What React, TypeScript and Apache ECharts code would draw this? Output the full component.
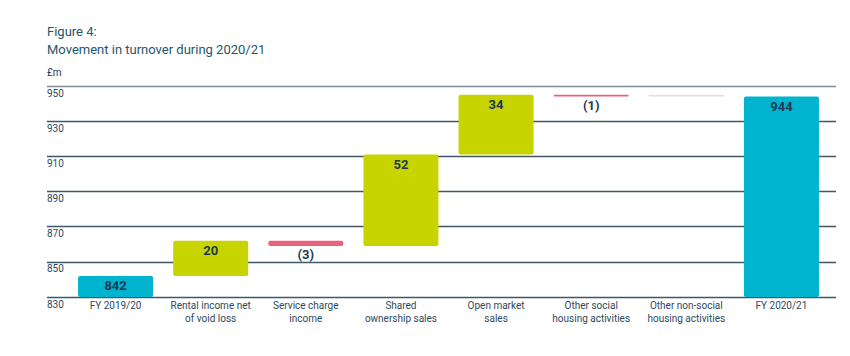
import React, { useEffect, useRef } from "react";
import * as echarts from "echarts";

const categories = [
  "FY 2019/20",
  "Rental income net\nof void loss",
  "Service charge\nincome",
  "Shared\nownership sales",
  "Open market\nsales",
  "Other social\nhousing activities",
  "Other non-social\nhousing activities",
  "FY 2020/21",
];
// movements in £m; first and last are totals
const changes = [842, 20, -3, 52, 34, -1, 0, 944];
const kinds = ["total", "up", "down", "up", "up", "down", "flat", "total"];
const yTicks = { min: 830, max: 950, interval: 20 };

const COLORS: Record<string, string> = {
  total: "#00b3cf",
  up: "#c8d400",
  down: "#e9627c",
  flat: "#dedede",
};
const FONT = "Roboto";
const NAVY = "#1c3a52";

export default function App() {
  const ref = useRef<HTMLDivElement>(null);
  useEffect(() => {
    if (!ref.current) return;
    const chart = echarts.init(ref.current, null, { renderer: "svg" });

    const base: number[] = [];
    const delta: any[] = [];
    let running = 0;
    changes.forEach((v, i) => {
      const k = kinds[i];
      let b: number, h: number;
      if (k === "total") {
        b = 0;
        h = v;
        running = v;
      } else if (v >= 0) {
        b = running;
        h = v;
        running += v;
      } else {
        running += v;
        b = running;
        h = -v;
      }
      base.push(b);
      let text = "";
      if (k === "total" || k === "up") text = String(v);
      else if (k === "down") text = `(${-v})`;
      delta.push({
        value: h,
        itemStyle: { color: COLORS[k], borderRadius: k === "flat" ? 0 : 2 },
        label: {
          show: text !== "",
          formatter: text,
          position: k === "down" ? "bottom" : "insideTop",
          distance: k === "down" ? 2 : 3,
        },
      });
    });

    chart.setOption({
      animation: false,
      graphic: [
        {
          type: "text",
          left: 47,
          top: 25,
          style: { text: "Figure 4:", font: `13px ${FONT}`, fill: "#24566a" },
        },
        {
          type: "text",
          left: 47,
          top: 43,
          style: {
            text: "Movement in turnover during 2020/21",
            font: `13px ${FONT}`,
            fill: "#24566a",
          },
        },
        {
          type: "text",
          left: 47,
          top: 67,
          style: { text: "£m", font: `10px ${FONT}`, fill: NAVY },
        },
      ],
      grid: [
        { left: 47, right: 14, top: 86, bottom: 59 },
        { left: 68, right: 21, top: 86, bottom: 59 },
      ],
      xAxis: [
        { type: "value", gridIndex: 0, show: false, min: 0, max: 1 },
        {
          type: "category",
          gridIndex: 1,
          data: categories,
          axisLine: { show: false },
          axisTick: { show: false },
          axisLabel: {
            color: "#2c4a60",
            fontFamily: FONT,
            fontSize: 10,
            lineHeight: 13,
            margin: 2,
            interval: 0,
          },
        },
      ],
      yAxis: [
        {
          type: "value",
          gridIndex: 0,
          min: yTicks.min,
          max: yTicks.max,
          interval: yTicks.interval,
          axisLine: { show: false },
          axisTick: { show: false },
          axisLabel: {
            inside: true,
            margin: 0,
            align: "left",
            verticalAlign: "top",
            padding: [2, 0, 0, 0],
            color: "#2c4a60",
            fontFamily: FONT,
            fontSize: 10,
          },
          splitLine: {
            lineStyle: {
              color: ["#3f5767", "#3f5767", "#3f5767", "#3f5767", "#3f5767", "#3f5767", "#7c8d98"],
              width: 1.3,
            },
          },
        },
        {
          type: "value",
          gridIndex: 1,
          min: yTicks.min,
          max: yTicks.max,
          interval: yTicks.interval,
          show: false,
          splitLine: { show: false },
        },
      ],
      series: [
        {
          type: "bar",
          xAxisIndex: 1,
          yAxisIndex: 1,
          stack: "wf",
          data: base,
          itemStyle: { color: "transparent" },
          barWidth: 75,
          silent: true,
        },
        {
          type: "bar",
          xAxisIndex: 1,
          yAxisIndex: 1,
          stack: "wf",
          data: delta,
          barWidth: 75,
          barMinHeight: 1.5,
          label: {
            color: NAVY,
            fontFamily: FONT,
            fontWeight: "bold",
            fontSize: 13,
          },
        },
      ],
    });
    return () => chart.dispose();
  }, []);
  return (
    <div
      ref={ref}
      style={{ position: "fixed", left: 0, top: 0, width: 850, height: 356, background: "#fff" }}
    />
  );
}
